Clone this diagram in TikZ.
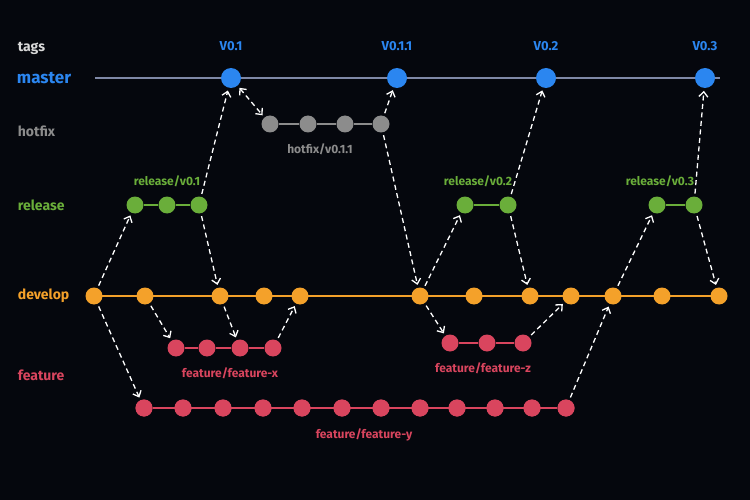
\documentclass[tikz,border=0pt]{standalone}
\usepackage{fontspec}
\setmainfont{Fira Sans}
\usetikzlibrary{arrows.meta}
\definecolor{bg}{HTML}{05070D}
\definecolor{cMaster}{HTML}{2B86F0}
\definecolor{cMline}{HTML}{7F88A6}
\definecolor{cHot}{HTML}{8C8C8C}
\definecolor{cRel}{HTML}{6AAE3A}
\definecolor{cDev}{HTML}{F4A12A}
\definecolor{cFeat}{HTML}{D9455E}
\begin{document}
\begin{tikzpicture}[x=1pt,y=-1pt,font=\bfseries\fontsize{12}{14}\selectfont,line width=1.8pt]
	\tikzstyle{commit}=[circle,inner sep=0pt,minimum size=17pt,draw=none]
	\tikzstyle{M} =[commit,fill=cMaster,minimum size=20pt] % M = master commit
	\tikzstyle{H} =[commit,fill=cHot]  % H = hotfix commit
	\tikzstyle{R} =[commit,fill=cRel]  % R = release commit
	\tikzstyle{D} =[commit,fill=cDev]  % D = develop commit
	\tikzstyle{F} =[commit,fill=cFeat] % F = feature commit
	\tikzstyle{branch}=[anchor=west,inner sep=0pt,font=\bfseries\fontsize{14}{16}\selectfont]
	\tikzstyle{flow}=[white,line width=1.3pt,dash pattern=on 5pt off 3.5pt,-{Straight Barb[length=5pt,width=9pt]},shorten >=2pt,shorten <=2pt]
	\fill[bg] (0,0) rectangle (750,500);
	\useasboundingbox (0,0) rectangle (750,500);
	% branch names
	\node[branch,text=white!85!black] (ltags) at (17,48) {tags};
	\node[branch,text=cMaster,font=\bfseries\fontsize{17}{19}\selectfont] (lmaster) at (16,78) {master};
	\node[branch,text=cHot] (lhotfix) at (17,131) {hotfix};
	\node[branch,text=cRel] (lrelease) at (17,205) {release};
	\node[branch,text=cDev] (ldevelop) at (17,296) {develop};
	\node[branch,text=cFeat] (lfeature) at (17,375) {feature};
	% master
	\coordinate (m0) at (95,78);
	\coordinate (m5) at (720,78);
	\draw[cMline] (m0) -- (m5);
	\foreach \i/\x/\t in {1/231/V0.1,2/397/V0.1.1,3/546/V0.2,4/705/V0.3}{
		\node[M] (m\i) at (\x,78) {};
		\node[text=cMaster,font=\bfseries\fontsize{13}{15}\selectfont] (t\i) at (\x,46) {\t};
	}
	% hotfix
	\foreach \i/\x in {1/270,2/308,3/345,4/381} \node[H] (h\i) at (\x,124) {};
	\draw[cHot] (h1) -- (h2) -- (h3) -- (h4);
	\node[text=cHot] (lh) at (320,149) {hotfix/v0.1.1};
	% release
	\foreach \i/\x in {1/135,2/167,3/199,4/465,5/508,6/657,7/694} \node[R] (r\i) at (\x,205) {};
	\draw[cRel] (r1) -- (r2) -- (r3);
	\draw[cRel] (r4) -- (r5);
	\draw[cRel] (r6) -- (r7);
	\node[text=cRel] (lr1) at (167,181) {release/v0.1};
	\node[text=cRel] (lr2) at (478,181) {release/v0.2};
	\node[text=cRel] (lr3) at (660,181) {release/v0.3};
	% develop
	\draw[cDev] (94,296) coordinate (d0) -- (719,296);
	\foreach \i/\x in {1/94,2/145,3/220,4/264,5/300,6/420,7/474,8/530,9/571,10/613,11/662,12/719} \node[D] (d\i) at (\x,296) {};
	% features
	\foreach \i/\x in {1/176,2/207,3/240,4/273} \node[F] (fx\i) at (\x,348) {};
	\draw[cFeat] (fx1) -- (fx2) -- (fx3) -- (fx4);
	\node[text=cFeat] (lfx) at (230,373) {feature/feature-x};
	\foreach \i/\x in {1/450,2/487,3/523} \node[F] (fz\i) at (\x,343) {};
	\draw[cFeat] (fz1) -- (fz2) -- (fz3);
	\node[text=cFeat] (lfz) at (483,368) {feature/feature-z};
	\foreach \i/\x in {1/144,2/183,3/223,4/263,5/302,6/342,7/381,8/420,9/457,10/495,11/532,12/566} \node[F] (fy\i) at (\x,408) {};
	\draw[cFeat] (fy1) -- (fy12);
	\foreach \i in {1,...,12} \node[F] at (fy\i) {};
	\node[text=cFeat] (lfy) at (364,435) {feature/feature-y};
	% merges
	\draw[flow] (d1) -- (r1);
	\draw[flow] (r3) -- (m1);
	\draw[flow] (r3) -- (d3);
	\draw[flow] (d2) -- (fx1);
	\draw[flow] (d3) -- (fx3);
	\draw[flow] (fx4) -- (d5);
	\draw[flow] (d1) -- (fy1);
	\draw[flow,{Straight Barb[length=5pt,width=9pt]}-{Straight Barb[length=5pt,width=9pt]}] (m1) -- (h1);
	\draw[flow] (h4) -- (m2);
	\draw[flow] (h4) -- (d6);
	\draw[flow] (d6) -- (r4);
	\draw[flow] (r5) -- (m3);
	\draw[flow] (r5) -- (d8);
	\draw[flow] (d6) -- (fz1);
	\draw[flow] (fz3) -- (d9);
	\draw[flow] (fy12) -- (d10);
	\draw[flow] (d10) -- (r6);
	\draw[flow] (r7) -- (m4);
	\draw[flow] (r7) -- (d12);
\end{tikzpicture}
\end{document}
